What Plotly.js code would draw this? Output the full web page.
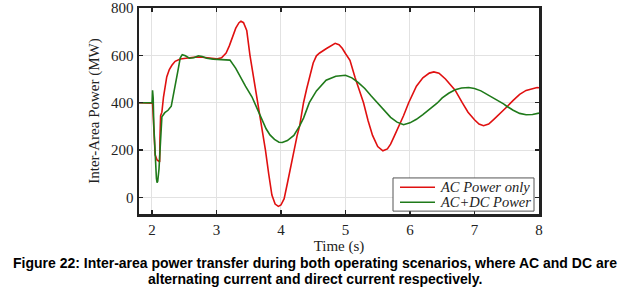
<!DOCTYPE html>
<html>
<head>
<meta charset="utf-8">
<script src="https://cdn.plot.ly/plotly-3.0.1.min.js"></script>
<style>html,body{margin:0;padding:0;background:#fff;}#chart{width:630px;height:293px;}</style>
</head>
<body>
<div id="chart"></div>
<script>
// Time (s) and power (MW)
var acTime = [1.8, 2.0, 2.01, 2.03, 2.05, 2.08, 2.10, 2.12, 2.125, 2.135, 2.155, 2.18, 2.23, 2.27, 2.31, 2.36, 2.44, 2.55, 2.65, 2.75, 2.85, 3.0, 3.08, 3.15, 3.2, 3.25, 3.3, 3.35, 3.38, 3.42, 3.47, 3.52, 3.58, 3.65, 3.7, 3.76, 3.81, 3.86, 3.91, 3.96, 4.0, 4.05, 4.1, 4.15, 4.2, 4.25, 4.29, 4.35, 4.4, 4.45, 4.5, 4.55, 4.6, 4.7, 4.78, 4.84, 4.9, 4.95, 5.0, 5.07, 5.15, 5.23, 5.28, 5.35, 5.42, 5.5, 5.58, 5.65, 5.7, 5.75, 5.8, 5.85, 5.9, 5.98, 6.05, 6.1, 6.2, 6.3, 6.37, 6.45, 6.55, 6.65, 6.7, 6.81, 6.9, 7.0, 7.07, 7.14, 7.22, 7.3, 7.4, 7.5, 7.6, 7.7, 7.8, 7.9, 7.97, 8.0];
var acPower = [400, 400, 398, 292, 180, 158, 152, 150, 250, 345, 360, 425, 509, 540, 558, 575, 585, 590, 592, 593, 590, 585, 590, 610, 640, 680, 715, 738, 744, 738, 705, 600, 500, 400, 300, 200, 100, 10, -28, -38, -32, -5, 60, 130, 200, 260, 302, 400, 460, 515, 568, 598, 610, 628, 643, 651, 645, 630, 608, 579, 505, 440, 400, 325, 262, 215, 197, 205, 225, 255, 285, 313, 345, 400, 445, 470, 505, 525, 530, 525, 500, 468, 453, 400, 360, 328, 310, 303, 310, 330, 355, 382, 410, 435, 452, 461, 464, 463];

var dcTime = [1.8, 2.0, 2.003, 2.01, 2.02, 2.03, 2.05, 2.07, 2.08, 2.09, 2.11, 2.13, 2.155, 2.2, 2.25, 2.3, 2.35, 2.4, 2.44, 2.47, 2.52, 2.58, 2.65, 2.72, 2.78, 2.85, 2.95, 3.05, 3.15, 3.21, 3.3, 3.37, 3.45, 3.55, 3.62, 3.7, 3.77, 3.83, 3.9, 3.97, 4.02, 4.1, 4.2, 4.29, 4.35, 4.44, 4.55, 4.7, 4.85, 5.0, 5.1, 5.2, 5.3, 5.4, 5.5, 5.6, 5.7, 5.8, 5.9, 6.0, 6.1, 6.2, 6.3, 6.42, 6.5, 6.6, 6.7, 6.8, 6.91, 7.0, 7.1, 7.2, 7.3, 7.45, 7.5, 7.6, 7.7, 7.8, 7.9, 8.0];
var dcPower = [400, 400, 400, 452, 420, 300, 150, 80, 62, 68, 120, 250, 341, 358, 368, 385, 450, 530, 590, 603, 598, 588, 590, 598, 595, 588, 584, 583, 581, 580, 545, 509, 470, 425, 380, 327, 290, 264, 245, 233, 232, 240, 262, 302, 335, 400, 450, 495, 512, 516, 505, 485, 460, 428, 397, 365, 338, 318, 307, 315, 330, 350, 372, 398, 420, 440, 455, 462, 464, 460, 450, 435, 418, 395, 385, 368, 355, 349, 350, 356];

var seriesNames = ['AC Power only', 'AC+DC Power'];
var seriesColors = ['#e01010', '#1f7a1a'];
var xTicks = [2, 3, 4, 5, 6, 7, 8];
var yTicks = [0, 200, 400, 600, 800];
var xTitle = 'Time (s)';
var yTitle = 'Inter-Area Power (MW)';
var captionLines = [
  'Figure 22: Inter-area power transfer during both operating scenarios, where AC and DC are',
  'alternating current and direct current respectively.'
];

var serif = 'Liberation Serif, Times New Roman, serif';

var traces = [
  {x: acTime, y: acPower, name: seriesNames[0], type: 'scatter', mode: 'lines',
   line: {color: seriesColors[0], width: 1.6}},
  {x: dcTime, y: dcPower, name: seriesNames[1], type: 'scatter', mode: 'lines',
   line: {color: seriesColors[1], width: 1.6}}
];

var axisCommon = {
  showline: true, linecolor: '#222', linewidth: 2.5, mirror: 'allticks',
  ticks: 'inside', ticklen: 4, tickwidth: 1.5, tickcolor: '#222',
  showgrid: true, gridcolor: '#e2e2e2', gridwidth: 1, zeroline: false,
  tickfont: {family: serif, size: 15, color: '#222'}
};

var captionY = [-0.238, -0.316];

// compact legend box (paper coordinates)
var legBox = {x0: 0.635, x1: 0.9875, y0: 0.014, y1: 0.175};
var legRowY = [0.130, 0.057];
var legKey = {x0: 0.6525, x1: 0.74};
var legTextX = 0.7475;

var shapes = [{
  type: 'rect', xref: 'paper', yref: 'paper',
  x0: legBox.x0, x1: legBox.x1, y0: legBox.y0, y1: legBox.y1,
  fillcolor: '#fff', line: {color: '#555', width: 1}, layer: 'above'
}];
var annotations = [];
seriesNames.forEach(function (n, i) {
  shapes.push({
    type: 'line', xref: 'paper', yref: 'paper',
    x0: legKey.x0, x1: legKey.x1, y0: legRowY[i], y1: legRowY[i],
    line: {color: seriesColors[i], width: 1.6}, layer: 'above'
  });
  annotations.push({
    text: n, xref: 'paper', yref: 'paper', x: legTextX, y: legRowY[i],
    xanchor: 'left', yanchor: 'middle', showarrow: false,
    font: {family: serif, size: 14.5, color: '#222', style: 'italic'}
  });
});
captionLines.forEach(function (t, i) {
  annotations.push({
    text: '<b>' + t + '</b>',
    xref: 'paper', yref: 'paper', x: 0.44, y: captionY[i], xanchor: 'center', yanchor: 'middle',
    showarrow: false, align: 'center',
    font: {family: 'Liberation Sans, Arial, sans-serif', size: 14, color: '#000'}
  });
});

var layout = {
  width: 630, height: 293,
  margin: {l: 139, r: 91, t: 8, b: 79},
  paper_bgcolor: '#fff', plot_bgcolor: '#fff',
  showlegend: false,
  xaxis: Object.assign({}, axisCommon, {
    range: [1.8, 8], tickvals: xTicks,
    title: {text: xTitle, font: {family: serif, size: 15, color: '#222'}, standoff: 2}
  }),
  yaxis: Object.assign({}, axisCommon, {
    range: [-70, 800], tickvals: yTicks,
    title: {text: yTitle, font: {family: serif, size: 15, color: '#222'}, standoff: 8}
  }),
  shapes: shapes,
  annotations: annotations
};

Plotly.newPlot('chart', traces, layout, {displayModeBar: false, staticPlot: true});
</script>
</body>
</html>
